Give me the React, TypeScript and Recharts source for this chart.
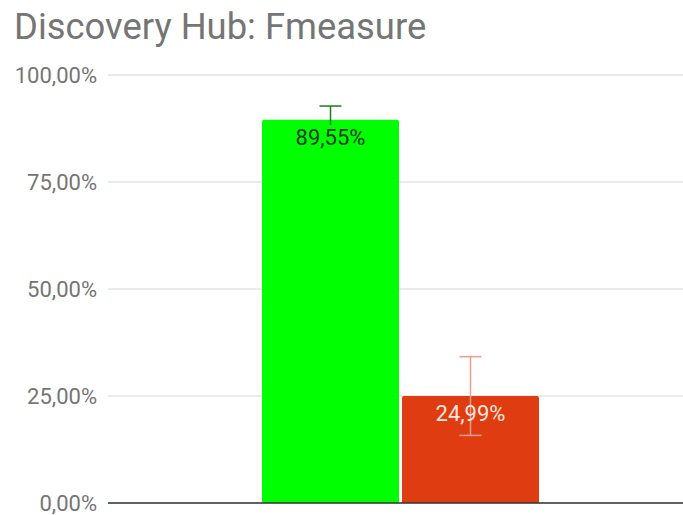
import { Bar, BarChart, CartesianGrid, ErrorBar, LabelList, ReferenceLine, XAxis, YAxis } from "recharts";

const categories = ["Fmeasure"];
const discoveryHub = [0.8955];
const discoveryHubError = [0.032];
const baseline = [0.2499];
const baselineError = [0.092];
const yTicks = [0, 0.25, 0.5, 0.75, 1];

const data = categories.map((name, i) => ({
  name,
  hub: discoveryHub[i],
  hubErr: discoveryHubError[i],
  base: baseline[i],
  baseErr: baselineError[i],
}));

const pct = (v: number) => `${(v * 100).toFixed(2).replace(".", ",")}%`;

export default function App() {
  return (
    <div style={{ position: "absolute", left: 0, top: 0, width: 683, height: 515, background: "#fff", overflow: "hidden" }}>
      <div
        style={{
          position: "absolute",
          left: 14,
          top: 5,
          fontFamily: "Roboto",
          fontSize: 36.4,
          color: "#757575",
          whiteSpace: "nowrap",
        }}
      >
        Discovery Hub: Fmeasure
      </div>
      <BarChart
        width={683}
        height={515}
        data={data}
        margin={{ top: 75, right: 0, left: 0, bottom: 12 }}
        barGap={3}
        barSize={137}
        style={{ fontFamily: "Roboto" }}
      >
        <CartesianGrid vertical={false} stroke="#d4d4d4" />
        <XAxis dataKey="name" tick={false} tickLine={false} height={0} axisLine={false} padding={{ left: 9, right: 0 }} />
        <YAxis
          domain={[0, 1]}
          ticks={yTicks}
          interval={0}
          tickFormatter={pct}
          axisLine={false}
          tickLine={false}
          width={108}
          tickMargin={5}
          tick={{ fill: "#757575", fontSize: 22 }}
        />
        <ReferenceLine y={0} stroke="#333333" strokeWidth={1.5} />
        <Bar dataKey="hub" fill="#00ff00" radius={[2, 2, 0, 0]} isAnimationActive={false}>
          <ErrorBar dataKey="hubErr" width={11} stroke="#1e7a1e" strokeWidth={1.5} direction="y" />
          <LabelList
            dataKey="hub"
            position="insideTop"
            offset={10}
            formatter={pct}
            fill="#1d3a1d"
            fontSize={22}
            stroke="#00ff00"
            strokeWidth={8}
            paintOrder="stroke"
          />
        </Bar>
        <Bar dataKey="base" fill="#e03c12" radius={[2, 2, 0, 0]} isAnimationActive={false}>
          <ErrorBar dataKey="baseErr" width={11} stroke="#e8a08c" strokeWidth={1.5} direction="y" />
          <LabelList dataKey="base" position="insideTop" offset={9} formatter={pct} fill="#fde6dc" fontSize={22} />
        </Bar>
      </BarChart>
    </div>
  );
}
